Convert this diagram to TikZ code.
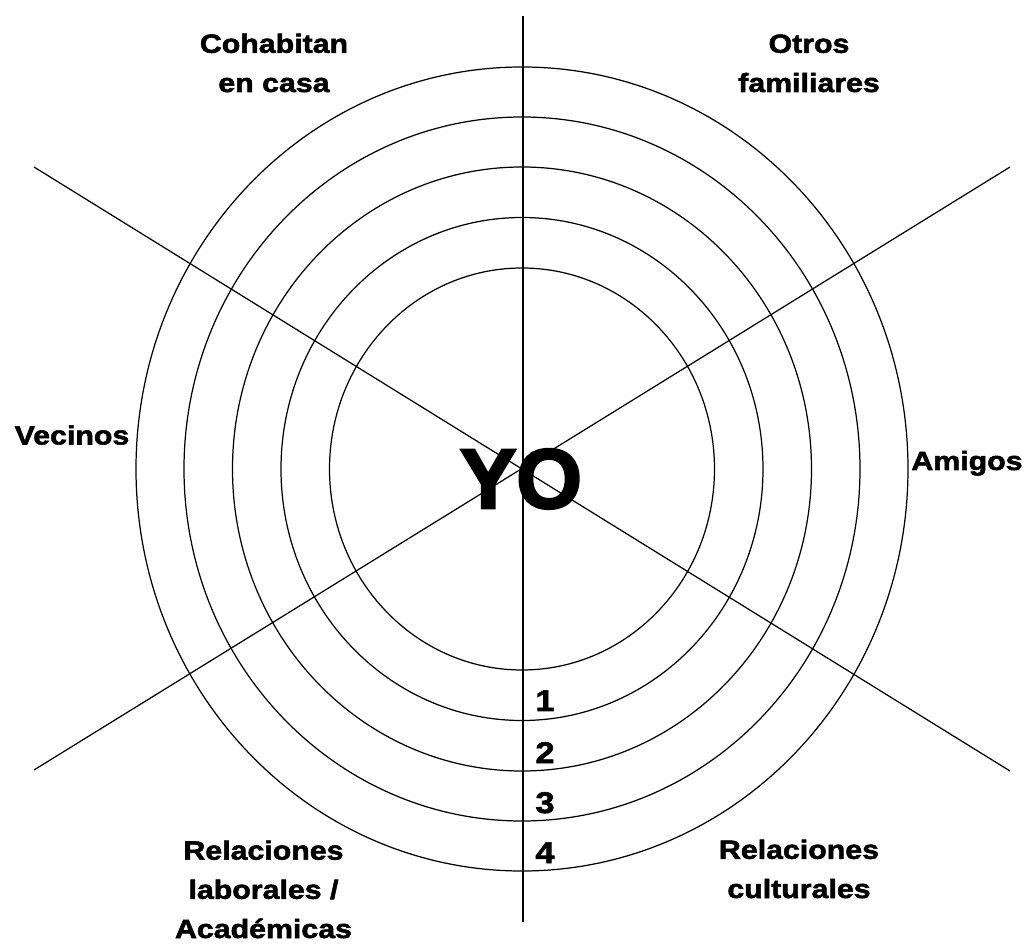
\documentclass[tikz,border=0pt]{standalone}
\usepackage{fontspec}
\newfontfamily\heavyfont{Liberation Sans}[FakeStretch=1.15, FakeBold=2]
\newfontfamily\yofont{Liberation Sans}[FakeBold=3]

\begin{document}
\begin{tikzpicture}[
		line width=0.7pt,
		lbl/.style={inner sep=0pt, anchor=base, align=center,
			font=\heavyfont\bfseries\fontsize{15}{22.3}\selectfont},
		num/.style={inner sep=0pt, anchor=base,
			font=\heavyfont\bfseries\fontsize{17}{20}\selectfont}]
		\useasboundingbox (-10.44, -9.50) rectangle (10.08, 9.38);
		% rings
		\foreach \rx/\ry in {3.85/4.02, 4.82/5.03, 5.79/6.04, 6.76/7.04, 7.72/8.04}
			\draw (0, 0) ellipse [x radius = \rx, y radius = \ry];
		% axes
		\coordinate (top) at (0.02, 9.06);
		\coordinate (bottom) at (0.02, -9.06);
		\coordinate (nw) at (-9.76, 6.04);
		\coordinate (se) at (9.76, -6.04);
		\coordinate (sw) at (-9.76, -6.02);
		\coordinate (ne) at (9.76, 6.04);
		\draw (top) -- (bottom);
		\draw (nw) -- (se);
		\draw (sw) -- (ne);
		% labels (base = last line)
		\node [inner sep=0pt, anchor=base, font=\yofont\bfseries\fontsize{48}{50}\selectfont]
			(yo) at (-0.02, -0.78) {YO};
		\node [lbl] (casa) at (-4.96, 7.54) {Cohabitan\\en casa};
		\node [lbl] (familia) at (5.74, 7.54) {Otros\\familiares};
		\node [lbl] (vecinos) at (-9.0, 0.49) {Vecinos};
		\node [lbl] (amigos) at (8.90, -0.02) {Amigos};
		\node [lbl] (laborales) at (-5.17, -9.38) {Relaciones\\laborales /\\Académicas};
		\node [lbl] (culturales) at (5.54, -8.58) {Relaciones\\culturales};
		\node [num] (n1) at (0.46, -4.84) {1};
		\node [num] (n2) at (0.46, -5.88) {2};
		\node [num] (n3) at (0.46, -6.88) {3};
		\node [num] (n4) at (0.46, -7.88) {4};
	\end{tikzpicture}
\end{document}
